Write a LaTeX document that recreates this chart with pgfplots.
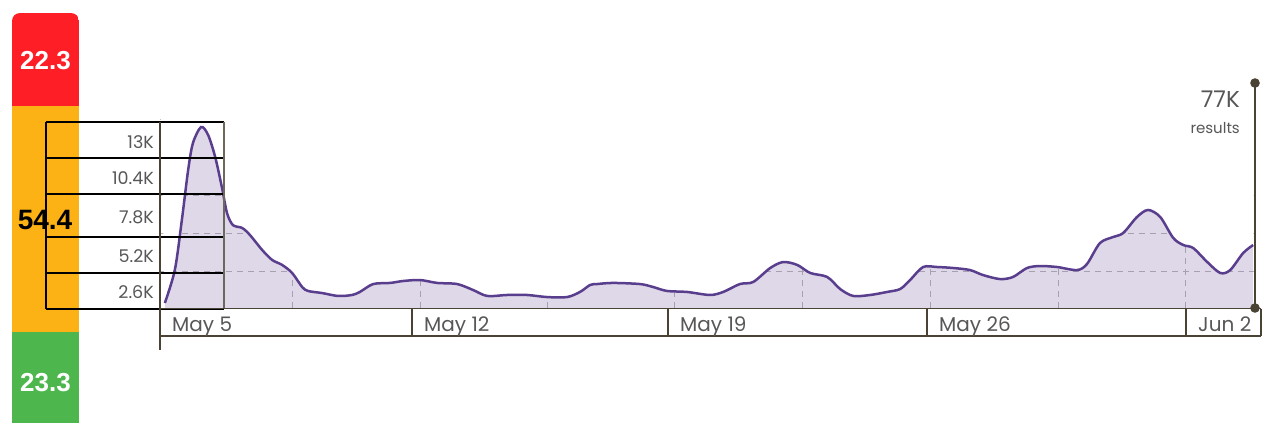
\documentclass[border=0pt]{standalone}
\usepackage{pgfplots}
\pgfplotsset{compat=1.18}
\usepackage{pgfplotstable}
\usepackage{fontspec}
\setmainfont{Poppins}
\newfontfamily\numfont{Liberation Sans}
\definecolor{cred}{HTML}{FE1E26}
\definecolor{corange}{HTML}{FCB215}
\definecolor{cgreen}{HTML}{4DB74E}
\definecolor{curvecol}{HTML}{5A3E8E}
\definecolor{darkline}{HTML}{4A4232}
\definecolor{labgray}{HTML}{575757}

\pgfplotstableread{
x y
0.32 0.36
0.59 2.75
0.78 6.36
0.95 9.97
1.08 11.92
1.30 13.07
1.49 12.49
1.68 10.91
1.86 8.74
2.00 6.86
2.16 5.99
2.41 5.78
2.62 5.27
2.95 4.19
3.22 3.47
3.49 3.11
3.76 2.53
4.03 1.52
4.19 1.23
4.57 1.08
5.00 0.87
5.38 0.94
5.59 1.16
5.95 1.73
6.41 1.81
6.76 1.95
7.22 2.02
7.68 1.81
8.22 1.73
8.65 1.30
9.03 0.87
9.57 0.94
10.11 0.94
10.65 0.79
11.19 0.79
11.54 1.16
11.81 1.66
12.00 1.73
12.43 1.81
13.16 1.73
13.51 1.52
13.89 1.23
14.43 1.16
15.05 0.94
15.41 1.16
15.86 1.73
16.22 1.88
16.68 2.89
17.03 3.32
17.41 3.11
17.76 2.53
18.22 2.24
18.57 1.37
18.92 0.87
19.38 0.94
19.84 1.16
20.19 1.37
20.46 2.02
20.81 2.96
21.19 2.96
21.62 2.89
22.08 2.74
22.43 2.38
22.89 2.09
23.24 2.24
23.62 2.89
23.97 3.03
24.43 2.96
24.97 2.74
25.24 3.18
25.59 4.69
25.95 5.13
26.22 5.42
26.59 6.57
26.89 7.08
27.22 6.57
27.57 5.06
27.84 4.55
28.11 4.33
28.49 3.32
28.84 2.53
29.11 2.74
29.46 3.97
29.73 4.55
}\curve

\pgfplotstableread{
x v
0 23.3
}\greenbar
\pgfplotstableread{
x v
0 54.4
}\orangebar
\pgfplotstableread{
x v
0 22.3
}\redbar

\begin{document}
\begin{tikzpicture}
\useasboundingbox (0pt,0pt) rectangle (1264pt,-423pt);

% ---- stacked colour bar ----
\begin{scope}
\clip[rounded corners=8pt] (12pt,-13pt) rectangle (79pt,-460pt);
\begin{axis}[at={(12pt,-429pt)}, anchor=south west,
  width=67pt, height=416pt, scale only axis,
  xmin=-0.5, xmax=0.5, ymin=0, ymax=100,
  ybar stacked, bar width=67pt, hide axis]
\addplot[fill=cgreen, draw=none] table[x=x,y=v] {\greenbar};
\addplot[fill=corange, draw=none] table[x=x,y=v] {\orangebar};
\addplot[fill=cred, draw=none] table[x=x,y=v] {\redbar};
\end{axis}
\end{scope}
\node[text=white, font={\numfont\bfseries\fontsize{26}{26}\selectfont}, inner sep=0pt] at (45.5pt,-60.5pt) {22.3};
\node[text=white, font={\numfont\bfseries\fontsize{26}{26}\selectfont}, inner sep=0pt] at (45.5pt,-382.5pt) {23.3};

% ---- main area chart ----
\begin{axis}[at={(160pt,-308pt)}, anchor=south west,
  width=1095pt, height=225pt, scale only axis,
  xmin=0.189, xmax=29.78, ymin=0, ymax=16.25,
  axis line style={draw=none}, tick style={draw=none},
  xticklabels={}, yticklabels={},
  xtick={3.78,7.22,10.65,14.1,17.54,21.0,24.46,27.9},
  ytick={2.67,5.42,8.16,10.9,13.65},
  grid=major,
  major grid style={color=gray!55, line width=0.9pt, dash pattern=on 6pt off 5pt}]
\addplot[draw=none, fill=curvecol, fill opacity=0.2, smooth] table[x=x,y=y] {\curve} \closedcycle;
\addplot[draw=none, fill=white, smooth] table[x=x,y=y] {\curve} -- (axis cs:29.78,16.25) -- (axis cs:0.189,16.25) -- cycle;
\addplot[color=curvecol, line width=2.5pt, smooth] table[x=x,y=y] {\curve};
\end{axis}

% ---- y label boxes ----
\foreach \yy in {122,158,194,237,273,309}{
  \draw[black, line width=1.2pt] (46pt,-\yy pt) -- (224pt,-\yy pt);
}
\draw[black, line width=1.2pt] (46pt,-122pt) -- (46pt,-309pt);
\draw[darkline!80, line width=1.2pt] (224pt,-122pt) -- (224pt,-309pt);
\begin{scope}[every node/.style={text=labgray, font={\fontsize{17.5}{17.5}\selectfont}, anchor=base east, inner sep=0pt}]
\node at (154pt,-148pt) {13K};
\node at (154pt,-184pt) {10.4K};
\node at (154pt,-223pt) {7.8K};
\node at (154pt,-262pt) {5.2K};
\node at (154pt,-298pt) {2.6K};
\end{scope}
\node[text=black, font={\numfont\bfseries\fontsize{28}{28}\selectfont}, inner sep=0pt] at (45pt,-220.5pt) {54.4};

% ---- x label boxes ----
\draw[darkline, line width=1.4pt] (160pt,-308.5pt) -- (1261pt,-308.5pt);
\draw[darkline, line width=1.4pt] (160pt,-336pt) -- (1261pt,-336pt);
\foreach \xx in {412,668,927,1186,1261}{
  \draw[darkline, line width=1.4pt] (\xx pt,-308.5pt) -- (\xx pt,-336pt);
}
\draw[darkline, line width=2pt] (160pt,-122pt) -- (160pt,-350pt);
\begin{scope}[every node/.style={text=labgray, font={\fontsize{20}{20}\selectfont}, anchor=base west, inner sep=0pt}]
\node at (172pt,-331pt) {May 5};
\node at (424pt,-331pt) {May 12};
\node at (680pt,-331pt) {May 19};
\node at (939pt,-331pt) {May 26};
\node at (1198pt,-331pt) {Jun 2};
\end{scope}

% ---- total marker ----
\draw[darkline, line width=2.6pt] (1255pt,-83pt) -- (1255pt,-308pt);
\fill[darkline] (1255pt,-83pt) circle (4.8pt);
\fill[darkline] (1255pt,-308pt) circle (4.8pt);
\node[text=labgray, font={\fontsize{23}{23}\selectfont}, anchor=base east, inner sep=0pt] at (1240pt,-107pt) {77K};
\node[text=labgray, font={\fontsize{15}{15}\selectfont}, anchor=base east, inner sep=0pt] at (1240pt,-133pt) {results};
\end{tikzpicture}
\end{document}
